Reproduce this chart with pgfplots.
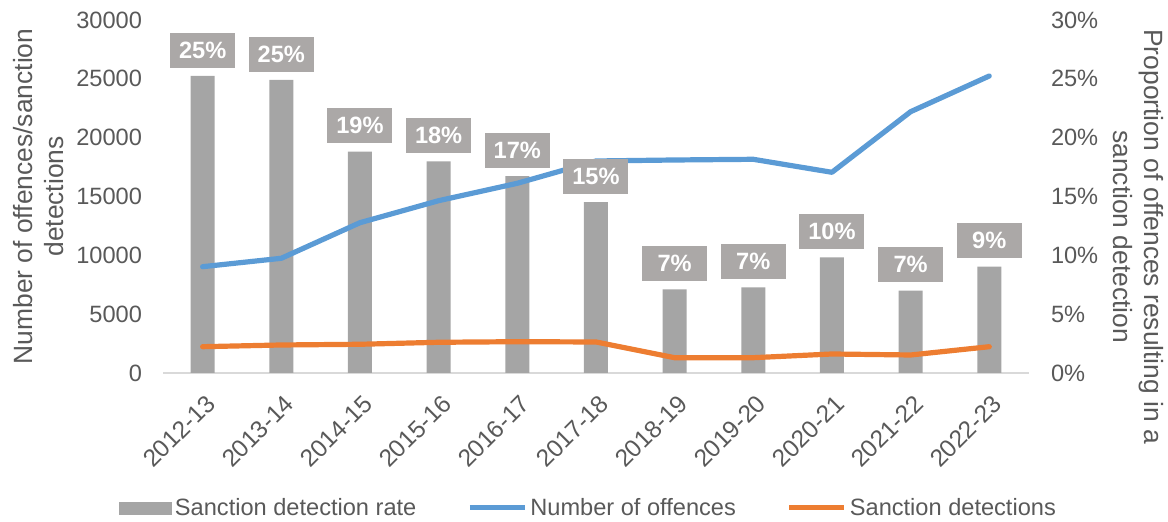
\documentclass[border=0pt]{standalone}
\usepackage{pgfplots}
\usepackage{pgfplotstable}
\pgfplotsset{compat=1.18}
\usepackage{fontspec}
\setmainfont{Liberation Sans}
\definecolor{bargray}{RGB}{165,165,165}
\definecolor{boxgray}{RGB}{171,168,167}
\definecolor{textgray}{RGB}{89,89,89}
\definecolor{axisgray}{RGB}{217,217,217}
\definecolor{blueline}{RGB}{91,155,213}
\definecolor{orangeline}{RGB}{237,125,49}
\newcommand{\tickfont}{\fontsize{11.8}{14}\selectfont}
\newcommand{\xtickfont}{\fontsize{12.2}{14.4}\selectfont}
\newcommand{\titlefont}{\fontsize{13.2}{15.6}\selectfont}

\pgfplotstableread{
x rate lab
0 25.24 25
1 24.90 25
2 18.81 19
3 17.99 18
4 16.74 17
5 14.53 15
6 7.11 7
7 7.28 7
8 9.83 10
9 6.99 7
10 9.03 9
}\rates

\pgfplotstableread{
x offences detections
0 9034 2235
1 9748 2380
2 12773 2440
3 14643 2610
4 16122 2660
5 18017 2635
6 18102 1300
7 18161 1300
8 17056 1615
9 22206 1530
10 25240 2235
}\counts

\pgfplotsset{
  common/.style={
    width=432.65pt, height=176.5pt, scale only axis,
    xmin=-0.5, xmax=10.5,
    major tick length=0pt,
    tick label style={font=\tickfont, text=textgray},
    /pgf/number format/assume math mode=true,
  }
}

\begin{document}
\begin{tikzpicture}
\path[use as bounding box] (-81.65pt,-74.5pt) rectangle (502.35pt,186.5pt);

% Axis A: bars (percent scale) and x axis
\begin{axis}[common,
  ymin=0, ymax=30,
  axis x line*=bottom, axis y line=none,
  x axis line style={draw=axisgray, line width=0.75pt, -},
  ytick=\empty,
  xtick={0,...,10},
  xticklabels={2012-13,2013-14,2014-15,2015-16,2016-17,2017-18,2018-19,2019-20,2020-21,2021-22,2022-23},
  xticklabel style={font=\xtickfont, xshift=1pt, yshift=-10pt, rotate=45, anchor=north east, inner sep=0pt},
]
\addplot[ybar, bar width=12pt, fill=bargray, draw=none] table[x=x, y=rate] {\rates};
\end{axis}

% Axis B: lines (count scale), left y axis
\begin{axis}[common,
  ymin=0, ymax=30000,
  axis x line=none, axis y line*=left,
  y axis line style={draw=none},
  xtick=\empty,
  ytick={0,5000,...,30000},
  scaled y ticks=false,
  yticklabel style={/pgf/number format/1000 sep={}, anchor=east, inner sep=0pt, xshift=-10.5pt},
  every axis y label/.style={at={(axis description cs:-0.1445,0.5)}, anchor=center, rotate=90, align=center, font=\titlefont, text=textgray},
  ylabel={Number of offences/sanction\\detections},
]
\addplot[blueline, line width=2.6pt, line join=round, line cap=round, mark=none] table[x=x, y=offences] {\counts};
\addplot[orangeline, line width=2.6pt, line join=round, line cap=round, mark=none] table[x=x, y=detections] {\counts};
\end{axis}

% Axis C: right y axis, data labels, legend
\begin{axis}[common,
  ymin=0, ymax=30,
  axis x line=none, axis y line*=right,
  y axis line style={draw=none},
  xtick=\empty,
  ytick={0,5,...,30},
  yticklabel={\pgfmathprintnumber{\tick}\%},
  yticklabel style={anchor=west, inner sep=0pt, xshift=11pt},
  every axis y label/.style={at={(axis description cs:1.1265,0.386)}, anchor=center, rotate=-90, align=center, font=\titlefont, text=textgray},
  ylabel={Proportion of offences resulting in a\\sanction detection},
  legend columns=3,
  legend cell align=left,
  legend style={at={(0.492,-0.3824)}, anchor=center, draw=none, fill=none,
    font=\tickfont, text=textgray,
    nodes={inner sep=1.5pt},
    /tikz/every even column/.append style={column sep=24pt}},
]
\addplot[draw=none, mark=none, forget plot,
  point meta=explicit symbolic,
  nodes near coords={\pgfplotspointmeta\%},
  every node near coord/.append style={fill=boxgray, text=white, font=\bfseries\tickfont,
    minimum width=32.5pt, minimum height=17.5pt, inner sep=0pt, anchor=south, yshift=4pt},
] table[x=x, y=rate, meta=lab] {\rates};
\addlegendimage{legend image code/.code={\fill[bargray] (0pt,-3pt) rectangle (26pt,3pt);}}
\addlegendentry{Sanction detection rate}
\addlegendimage{legend image code/.code={\draw[blueline, line width=2.5pt] (0pt,0pt) -- (27.5pt,0pt);}}
\addlegendentry{Number of offences}
\addlegendimage{legend image code/.code={\draw[orangeline, line width=2.5pt] (0pt,0pt) -- (27.5pt,0pt);}}
\addlegendentry{Sanction detections}
\end{axis}
\end{tikzpicture}
\end{document}
